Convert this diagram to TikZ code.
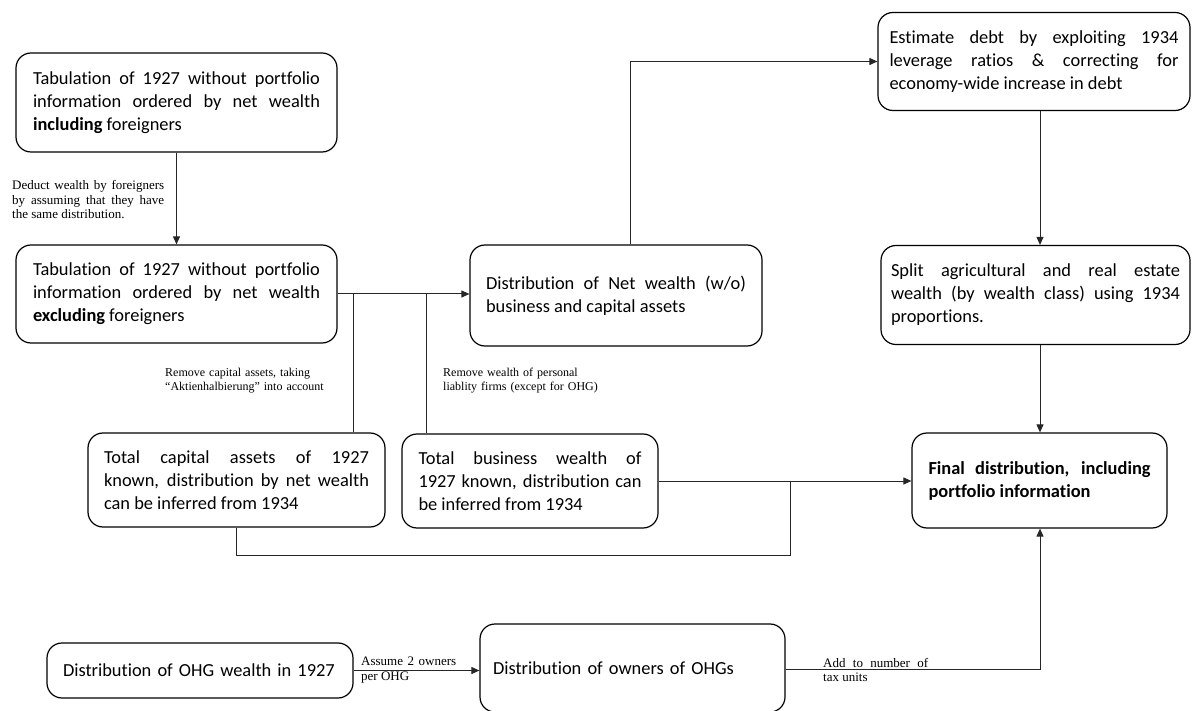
\documentclass[tikz,border=0pt]{standalone}
\usepackage{fontspec}
\setmainfont{Carlito}[Ligatures={NoCommon}]
\newfontfamily\labfont{Liberation Serif}
\usetikzlibrary{arrows.meta}
\begin{document}
\begin{tikzpicture}[x=1pt,y=-1pt,
  box/.style={draw, line width=1.2pt, rounded corners=15pt,
    font=\fontsize{18.4}{23}\selectfont, align=justify, inner xsep=0pt, inner ysep=0pt},
  lab/.style={font=\labfont\fontsize{12}{14}\selectfont, inner sep=0pt, anchor=west},
  biglab/.style={lab, font=\labfont\fontsize{13}{14.5}\selectfont},
  conn/.style={line width=1pt, draw=black!85},
  arr/.style={conn, -{Triangle[length=8pt,width=7pt]}}]
\useasboundingbox (0,0) rectangle (1192,711);

% boxes
\node[box, text width=287pt, minimum width=321pt, minimum height=99pt] (A) at (176.5,102.5)
  {Tabulation of 1927 without portfolio\linebreak information ordered by net wealth\linebreak \textbf{including} foreigners};
\node[box, text width=287pt, minimum width=321pt, minimum height=98pt] (B) at (176.5,294)
  {Tabulation of 1927 without portfolio\linebreak information ordered by net wealth\linebreak \textbf{excluding} foreigners};
\node[box, text width=260pt, minimum width=292pt, minimum height=101pt] (C) at (616,295.5)
  {Distribution of Net wealth (w/o)\linebreak business and capital assets};
\node[box, text width=289pt, minimum width=312pt, minimum height=98pt] (D) at (1034,61.5)
  {Estimate debt by exploiting 1934\linebreak leverage ratios \& correcting for\linebreak economy-wide increase in debt};
\node[box, text width=289pt, minimum width=309pt, minimum height=99pt] (E) at (1035.5,295)
  {Split agricultural and real estate\linebreak wealth (by wealth class) using 1934\linebreak proportions.};
\node[box, text width=265pt, minimum width=297pt, minimum height=94pt] (F) at (236.5,480)
  {Total capital assets of 1927\linebreak known, distribution by net wealth\linebreak can be inferred from 1934};
\node[box, text width=223pt, minimum width=256pt, minimum height=94pt] (G) at (530,481)
  {Total business wealth of\linebreak 1927 known, distribution can\linebreak be inferred from 1934};
\node[box, text width=222pt, minimum width=255pt, minimum height=95pt, font=\fontsize{18.4}{23}\selectfont\bfseries] (H) at (1039.5,480.5)
  {Final distribution, including\linebreak portfolio information};
\node[box, align=left, text width=274pt, minimum width=306pt, minimum height=55pt] (I) at (200,670.5)
  {Distribution of OHG wealth in 1927};
\node[box, align=left, text width=279pt, minimum width=305pt, minimum height=88pt] (J) at (632.5,668)
  {Distribution of owners of OHGs};

% labels
\node[biglab, text width=152pt, align=justify] (l1) at (12,200)
  {Deduct wealth by foreigners\linebreak by assuming that they have\linebreak the same distribution.};
\node[lab, text width=190pt, align=left] (l2) at (165,381)
  {Remove capital assets, taking\\“Aktienhalbierung” into account};
\node[lab, text width=200pt, align=left] (l3) at (443,381)
  {Remove wealth of personal\\liablity firms (except for OHG)};
\node[biglab, text width=95pt, align=justify] (l4) at (361,670)
  {Assume 2 owners\linebreak per OHG};
\node[biglab, text width=105pt, align=justify] (l5) at (823,670)
  {Add to number of\linebreak tax units};

% connectors
\coordinate (j1) at (353,294);
\coordinate (j2) at (426,294);
\coordinate (c1) at (630,0);
\coordinate (v) at (1040,0);
\coordinate (m) at (790,0);

\draw[arr] (A.south) -- (B.north);
\draw[arr] (B.east) -- (B.east -| C.west);
\draw[conn] (j1) -- (j1 |- F.north);
\draw[conn] (j2) -- (j2 |- G.north);
\draw[arr] (c1 |- C.north) |- (D.west);
\draw[arr] (v |- D.south) -- (v |- E.north);
\draw[arr] (v |- E.south) -- (v |- H.north);
\draw[arr] (G.east) -- (G.east -| H.west);
\draw[conn] (F.south) -- ++(0,28) -| (m |- G.east);
\draw[arr] ([yshift=-1pt]J.east) -| (v |- H.south);
\draw[arr] (I.east) -- (I.east -| J.west);
\end{tikzpicture}
\end{document}
